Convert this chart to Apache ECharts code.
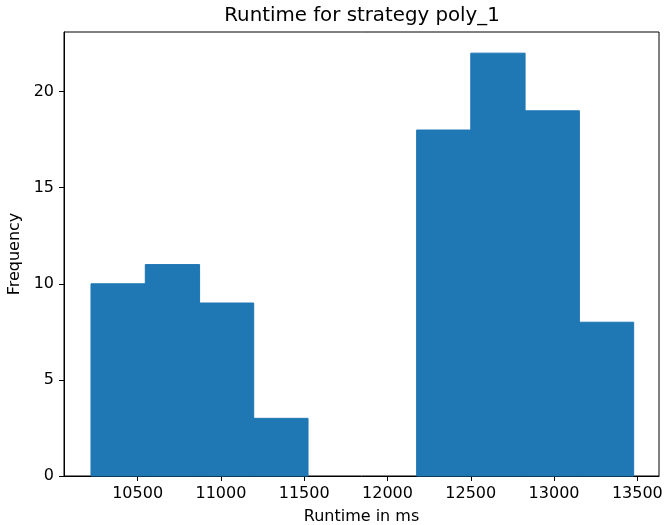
<!DOCTYPE html>
<html>
<head>
<meta charset="utf-8">
<script src="https://cdn.jsdelivr.net/npm/echarts@6/dist/echarts.min.js"></script>
<style>html,body{margin:0;padding:0;background:#fff}#c{width:667px;height:525px}</style>
</head>
<body>
<div id="c"></div>
<script>
// Histogram bin edges (ms) and counts
var binEdges = [10220, 10546, 10872, 11197, 11523, 11849, 12175, 12500, 12826, 13152, 13478];
var counts = [10, 11, 9, 3, 0, 0, 18, 22, 19, 8];
var xTicks = [10500, 11000, 11500, 12000, 12500, 13000, 13500];
var yTicks = [0, 5, 10, 15, 20];

var data = counts.map(function (c, i) { return [binEdges[i], binEdges[i + 1], c]; });
var font = 'DejaVu Sans';

var chart = echarts.init(document.getElementById('c'), null, { renderer: 'canvas' });
chart.setOption({
  animation: false,
  backgroundColor: '#fff',
  title: {
    text: 'Runtime for strategy poly_1',
    left: 357, top: 1, textAlign: 'center',
    textStyle: { fontFamily: font, fontSize: 19.8, fontWeight: 'normal', color: '#000' }
  },
  grid: { left: 64, right: 8, top: 32, bottom: 49, outerBoundsMode: 'none', containLabel: false,
          show: true, borderColor: '#000', borderWidth: 1, backgroundColor: 'transparent' },
  xAxis: {
    type: 'value', min: 10058, max: 13630,
    name: 'Runtime in ms', nameLocation: 'middle', nameGap: 33,
    nameTextStyle: { fontFamily: font, fontSize: 16, color: '#000' },
    axisLine: { show: true, lineStyle: { color: '#000', width: 1 } },
    axisTick: { show: true, length: 5, customValues: xTicks, lineStyle: { color: '#000' } },
    axisLabel: { customValues: xTicks, margin: 10, fontFamily: font, fontSize: 16, color: '#000',
                 formatter: function (v) { return String(v); } },
    splitLine: { show: false }
  },
  yAxis: {
    type: 'value', min: 0, max: 23.1,
    name: 'Frequency', nameLocation: 'middle', nameGap: 38,
    nameTextStyle: { fontFamily: font, fontSize: 16, color: '#000' },
    axisLine: { show: true, lineStyle: { color: '#000', width: 1 } },
    axisTick: { show: true, length: 5, customValues: yTicks, lineStyle: { color: '#000' } },
    axisLabel: { customValues: yTicks, margin: 10, fontFamily: font, fontSize: 16, color: '#000',
                 formatter: function (v) { return String(v); } },
    splitLine: { show: false }
  },
  series: [{
    type: 'custom',
    data: data,
    encode: { x: [0, 1], y: 2 },
    renderItem: function (params, api) {
      if (!(api.value(2) > 0)) { return null; }
      var p0 = api.coord([api.value(0), api.value(2)]);
      var p1 = api.coord([api.value(1), 0]);
      return {
        type: 'rect',
        shape: { x: p0[0], y: p0[1], width: p1[0] - p0[0], height: p1[1] - p0[1] },
        style: { fill: '#1f77b4', stroke: '#1f77b4', lineWidth: 1 }
      };
    }
  }]
});
</script>
</body>
</html>
